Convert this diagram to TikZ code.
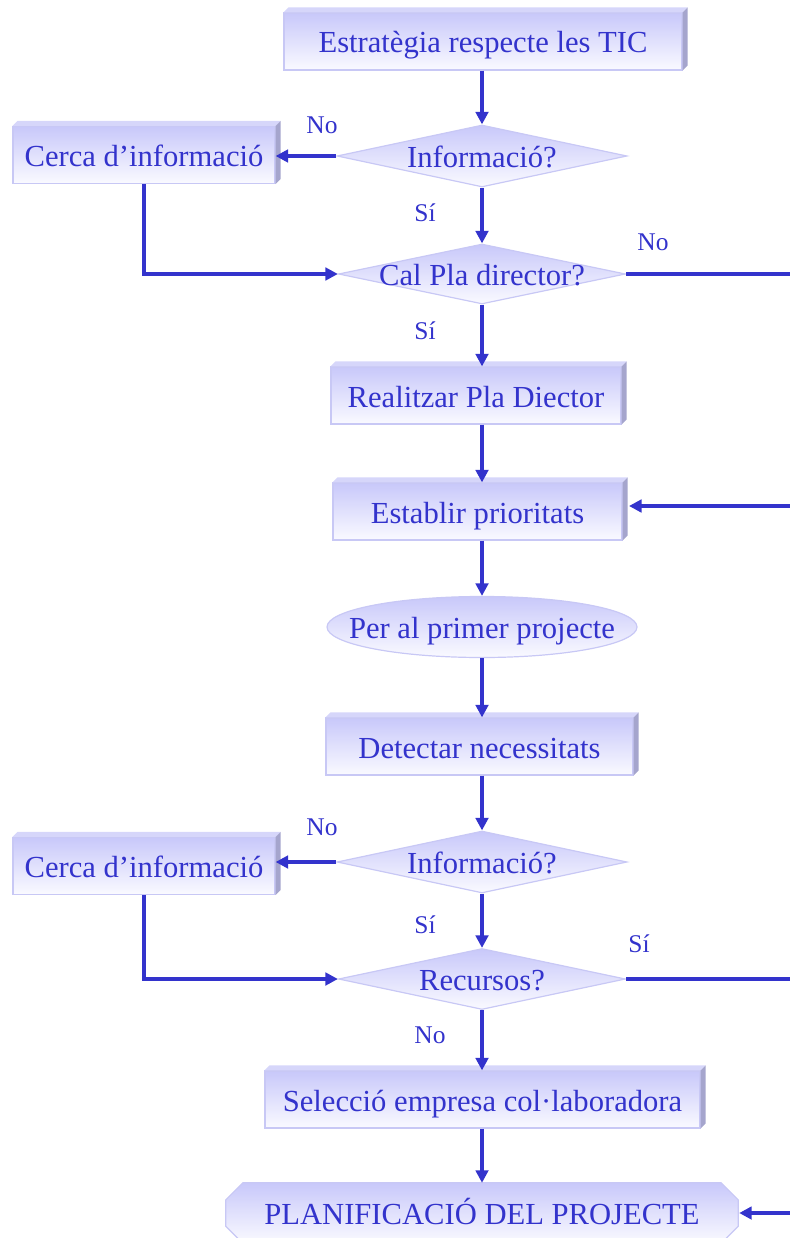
\documentclass[tikz,border=0pt]{standalone}
\usepackage{fontspec}
\setmainfont{Liberation Serif}
\usetikzlibrary{shapes.geometric,arrows.meta,backgrounds}

\definecolor{ink}{RGB}{51,51,204}
\definecolor{faceTop}{RGB}{200,200,250}
\definecolor{faceBot}{RGB}{250,250,255}
\definecolor{edge}{RGB}{200,200,245}
\definecolor{bevelTop}{RGB}{214,214,250}
\definecolor{bevelSide}{RGB}{165,165,205}

\newcommand\mainfs{\fontsize{30.6}{36}\selectfont}
\newcommand\lblfs{\fontsize{25.5}{30}\selectfont}

% top and right faces that give a box its raised look
\newcommand\bevel[1]{%
  \fill[bevelTop] (#1.north west) -- ++(5,-5) -- ([shift={(5,-5)}]#1.north east) -- (#1.north east) -- cycle;
  \fill[bevelSide] (#1.north east) -- ++(5,-5) -- ([shift={(5,-5)}]#1.south east) -- (#1.south east) -- cycle;}

\tikzset{
  txt/.style={text=ink, font=\mainfs, text height=23pt, text depth=0pt, inner sep=0pt},
  box/.style={txt, rectangle, draw=edge, line width=1.2pt, top color=faceTop, bottom color=faceBot, minimum height=57pt},
  dia/.style={diamond, draw=edge, line width=1.2pt, top color=faceTop, bottom color=faceBot, inner sep=0pt},
  oval/.style={ellipse, draw=edge, line width=1.2pt, top color=faceTop, bottom color=faceBot, inner sep=0pt},
  lbl/.style={text=ink, font=\lblfs, anchor=base, inner sep=0pt},
  link/.style={draw=ink, line width=4.5pt},
  arr/.style={link, -{Triangle[length=12.5pt,width=12.5pt]}},
}

\begin{document}
\begin{tikzpicture}[x=1pt, y=-1pt]
\useasboundingbox (0,0) rectangle (789,1238);
\coordinate (axis) at (482,0);
\coordinate (rail) at (840,0);

% boxes
\node[box, minimum width=398pt] (top) at (483,41.5) {Estratègia respecte les TIC};
\bevel{top}
\node[box, minimum width=262pt] (c1) at (144,155) {Cerca d’informació};
\bevel{c1}
\node[dia, minimum width=290pt, minimum height=62pt, label={[txt]center:Informació?}] (d1) at (482,156) {};
\node[dia, minimum width=287pt, minimum height=60pt, label={[txt]center:Cal Pla director?}] (d2) at (482,274) {};
\node[box, minimum width=290pt] (real) at (476,395.5) {Realitzar Pla Diector};
\bevel{real}
\node[box, minimum width=289pt] (est) at (477.5,511.5) {Establir prioritats};
\bevel{est}
\node[oval, minimum width=310pt, minimum height=61pt, label={[txt]center:Per al primer projecte}] (proj) at (482,627) {};
\node[box, minimum width=307pt] (det) at (479.5,746.5) {Detectar necessitats};
\bevel{det}
\node[box, minimum width=262pt] (c2) at (144,866) {Cerca d’informació};
\bevel{c2}
\node[dia, minimum width=290pt, minimum height=62pt, label={[txt]center:Informació?}] (d3) at (482,862) {};
\node[dia, minimum width=287pt, minimum height=61pt, label={[txt]center:Recursos?}] (d4) at (482,979) {};
\node[box, minimum width=435pt] (sel) at (482.5,1099.5) {Selecció empresa col·laboradora};
\bevel{sel}
\node[txt, minimum width=512pt, minimum height=60pt] (plan) at (482,1213) {PLANIFICACIÓ DEL PROJECTE};
\begin{pgfonlayer}{background}
\path[draw=edge, line width=1.2pt, top color=faceTop, bottom color=faceBot]
  ([xshift=17pt]plan.north west) -- ([xshift=-17pt]plan.north east)
  -- ([yshift=-17pt]plan.north east) -- ([yshift=17pt]plan.south east)
  -- ([xshift=-17pt]plan.south east) -- ([xshift=17pt]plan.south west)
  -- ([yshift=17pt]plan.south west) -- ([yshift=-17pt]plan.north west) -- cycle;
\end{pgfonlayer}

% connectors
\draw[arr] (top.south -| axis) -- (d1.north);
\draw[arr] (d1.west) -- (d1.west -| c1.east);
\draw[arr] (d1.south) -- (d2.north);
\draw[arr] (c1.south) |- (d2.west);
\draw[link] (d2.east) -- (d2.east -| rail);
\draw[arr] (d2.south) -- (real.north -| axis);
\draw[arr] (real.south -| axis) -- (est.north -| axis);
\draw[arr] (rail |- 0,506) -- (629,506) coordinate (estin);
\draw[arr] (est.south -| axis) -- (proj.north);
\draw[arr] (proj.south) -- (det.north -| axis);
\draw[arr] (det.south -| axis) -- (d3.north);
\draw[arr] (d3.west) -- (d3.west -| c2.east);
\draw[arr] (d3.south) -- (d4.north);
\draw[arr] (c2.south) |- (d4.west);
\draw[link] (d4.east) -- (d4.east -| rail);
\draw[arr] (d4.south) -- (sel.north -| axis);
\draw[arr] (sel.south -| axis) -- (plan.north);
\draw[arr] (rail |- plan.east) -- ([xshift=1pt]plan.east);

% branch labels
\node[lbl] at (322,134) {No};
\node[lbl] at (425,222) {Sí};
\node[lbl] at (653,251) {No};
\node[lbl] at (425,339) {Sí};
\node[lbl] at (322,835) {No};
\node[lbl] at (425,933) {Sí};
\node[lbl] at (639,952) {Sí};
\node[lbl] at (430,1043) {No};
\end{tikzpicture}
\end{document}
